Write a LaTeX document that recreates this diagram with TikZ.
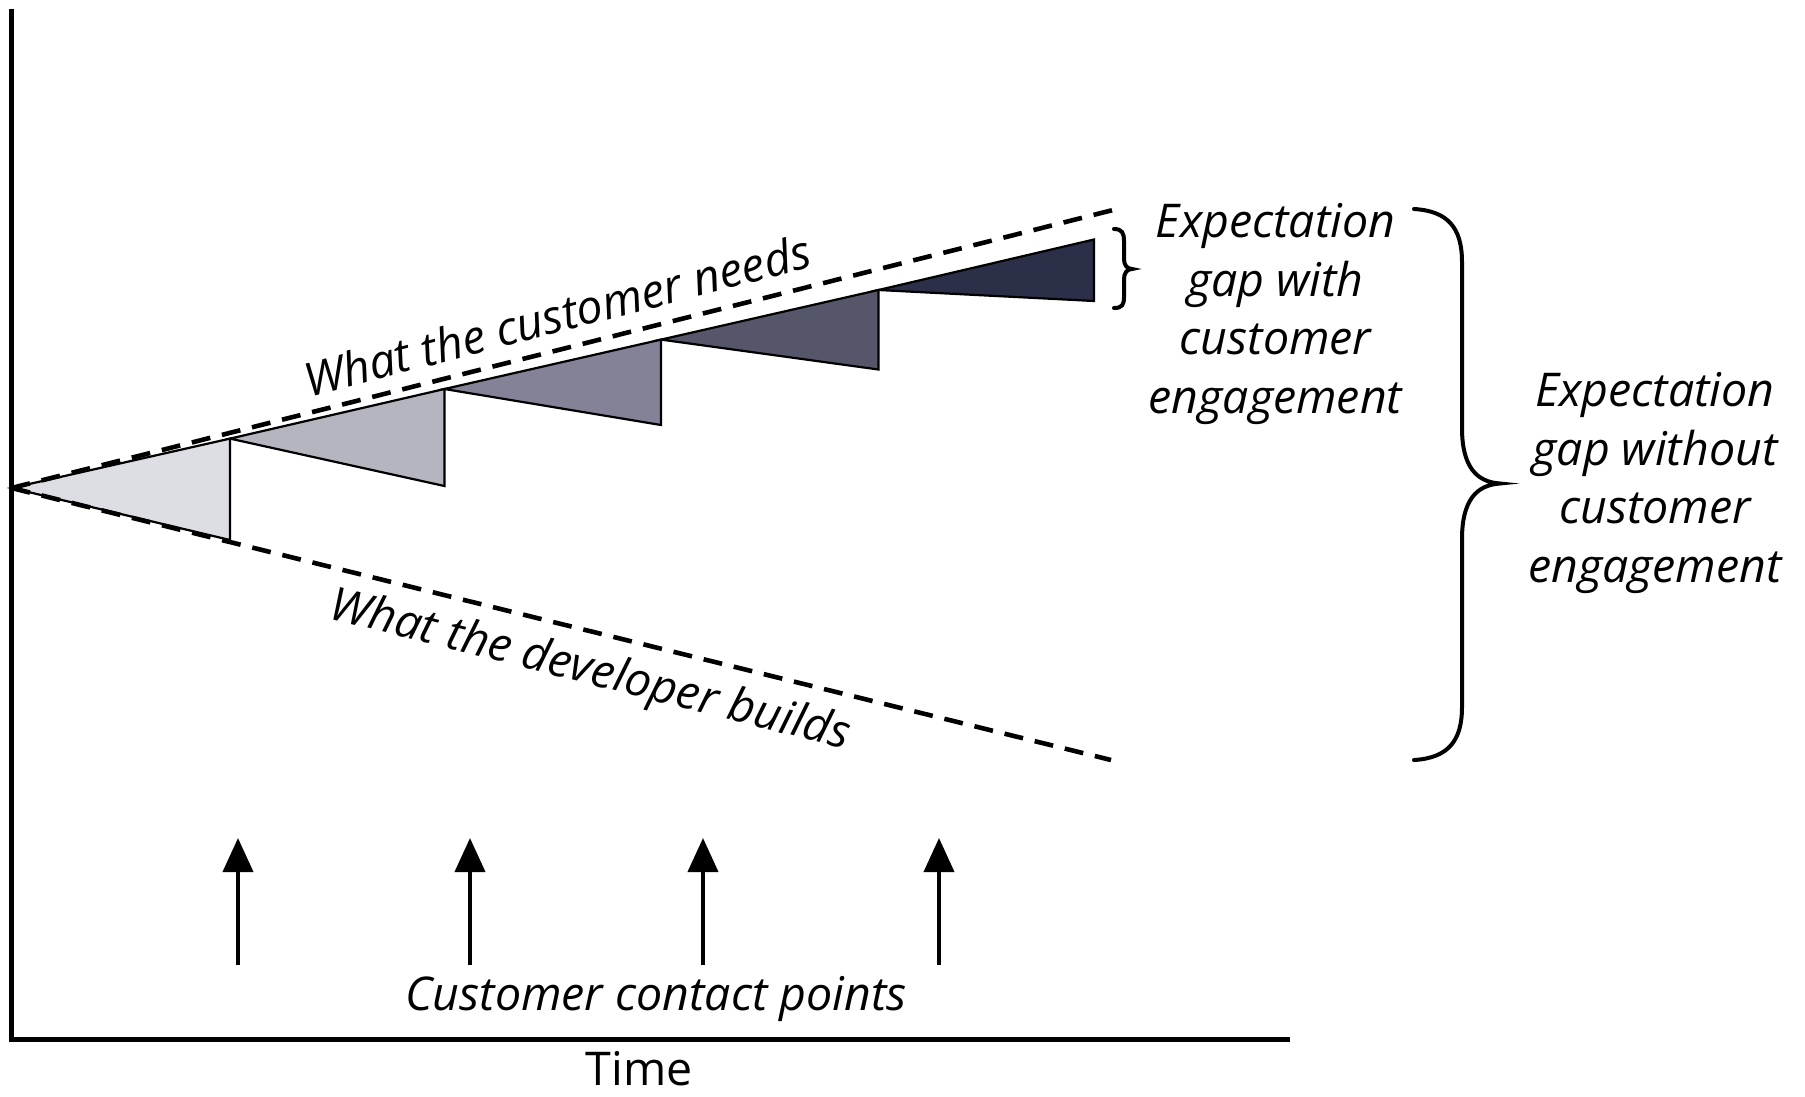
\documentclass[tikz,border=0pt]{standalone}
\usepackage{fontspec}
\setmainfont{Open Sans}
\usetikzlibrary{arrows.meta}
\definecolor{tone1}{RGB}{221,221,228}
\definecolor{tone2}{RGB}{181,181,192}
\definecolor{tone3}{RGB}{132,130,150}
\definecolor{tone4}{RGB}{86,86,106}
\definecolor{tone5}{RGB}{43,47,72}
\tikzset{
  axisline/.style={line width=5pt},
  dashline/.style={line width=4.6pt, dash pattern=on 19pt off 12pt},
  wedge/.style={draw=black, line width=2.2pt, line join=miter},
  contact/.style={line width=4pt, -{Triangle[length=34pt,width=30pt]}},
  bracepath/.style={line width=4pt, line cap=round},
  lbl/.style={font=\fontsize{46.5}{58.5}\selectfont\itshape, align=center, inner sep=0pt},
}
\begin{document}
\begin{tikzpicture}[x=1pt,y=-1pt]
\useasboundingbox (0,0) rectangle (1805,1096);
% axes
\coordinate (ytop) at (11.5,9);
\coordinate (orig) at (11.5,1039);
\coordinate (xend) at (1290,1039);
\draw[axisline, line join=miter] (ytop) -- (orig) -- (xend);
% key points
\coordinate (O) at (11.5,488);
\coordinate (U) at (1117,209);
\coordinate (L) at (1111,760);
\coordinate (a1) at (230,438.6);  \coordinate (b1) at (230,540);
\coordinate (a2) at (444.4,389);  \coordinate (b2) at (444.4,486);
\coordinate (a3) at (661,339.6);  \coordinate (b3) at (661,425);
\coordinate (a4) at (878.4,290);  \coordinate (b4) at (878.4,369.5);
\coordinate (a5) at (1094,239.5); \coordinate (b5) at (1094,301);
% wedges
\filldraw[wedge, fill=tone1] (O) -- (a1) -- (b1) -- cycle;
\filldraw[wedge, fill=tone2] (a1) -- (a2) -- (b2) -- cycle;
\filldraw[wedge, fill=tone3] (a2) -- (a3) -- (b3) -- cycle;
\filldraw[wedge, fill=tone4] (a3) -- (a4) -- (b4) -- cycle;
\filldraw[wedge, fill=tone5] (a4) -- (a5) -- (b5) -- cycle;
% dashed lines
\draw[dashline] (O) -- (U);
\draw[dashline] (O) -- (L);
% line labels
\node[lbl, rotate=14.5] (needs) at (557,315) {What the customer needs};
\node[lbl, rotate=-14.2] (builds) at (590,672) {What the developer builds};
% small brace
\draw[bracepath] (1114,229) .. controls (1122,229) and (1124,233) .. (1124,241) -- (1124,259)
  .. controls (1124,265) and (1127,269) .. (1132,269)
  .. controls (1127,269) and (1124,273) .. (1124,279) -- (1124,297)
  .. controls (1124,305) and (1122,308) .. (1114,308);
% big brace
\draw[bracepath] (1414,209) .. controls (1448,211) and (1462,228) .. (1462,262) -- (1462,428)
  .. controls (1462,466) and (1476,482) .. (1500,483.5)
  .. controls (1476,485) and (1462,501) .. (1462,539) -- (1462,707)
  .. controls (1462,741) and (1448,758) .. (1414,760);
% gap labels
\node[lbl] (gapwith) at (1275.5,314) {Expectation\\gap with\\customer\\engagement};
\node[lbl] (gapwithout) at (1655,483) {Expectation\\gap without\\customer\\engagement};
% contact arrows
\foreach \i/\x in {1/238,2/470,3/703,4/939}{
  \coordinate (t\i) at (\x,965);
  \coordinate (h\i) at (\x,838);
  \draw[contact] (t\i) -- (h\i);
}
\node[lbl] (contacts) at (656,999) {Customer contact points};
\node[font=\fontsize{46.5}{56}\selectfont, inner sep=0pt, text depth=0pt, anchor=base] (time) at (639,1085) {Time};
\end{tikzpicture}
\end{document}
